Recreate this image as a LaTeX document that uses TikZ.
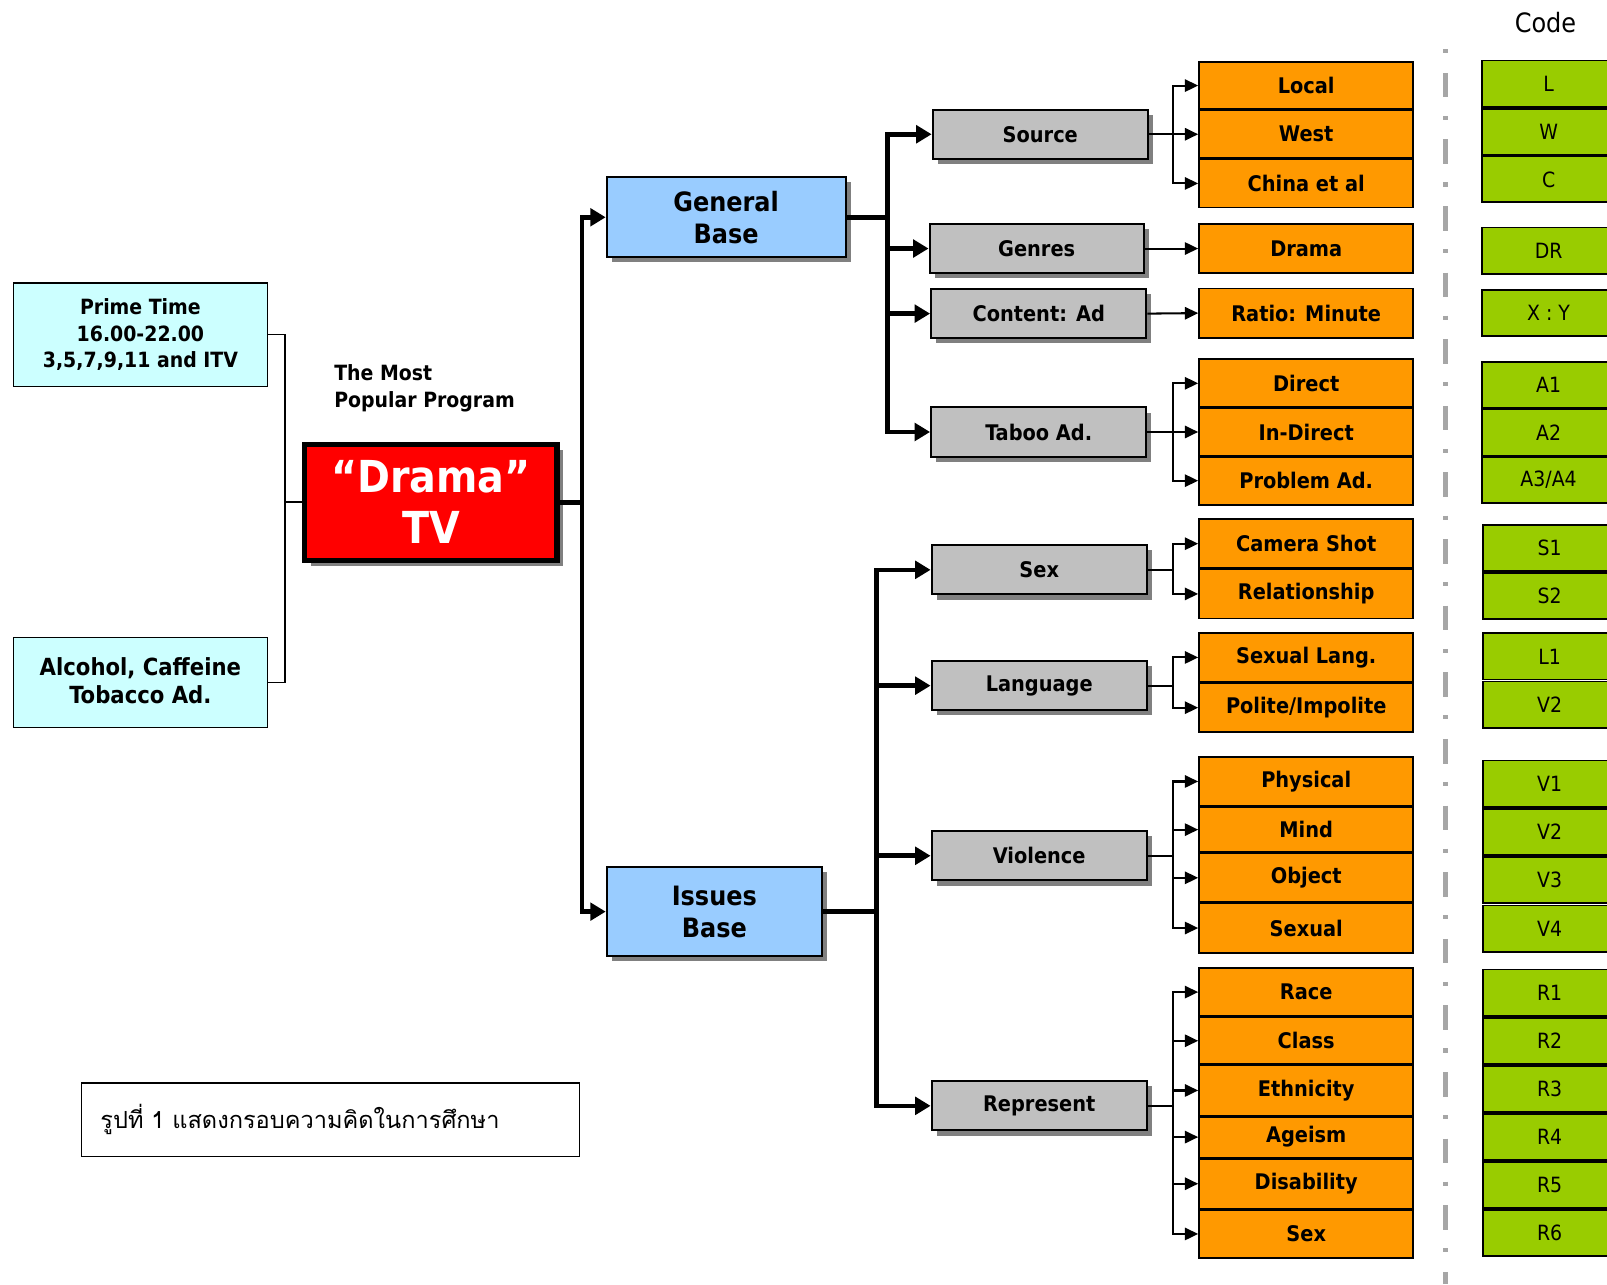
\documentclass[tikz,border=0pt]{standalone}
\usepackage{fontspec}
\setmainfont{DejaVu Sans Condensed}
\newfontfamily\thaifont[Script=Thai]{Loma}
\usetikzlibrary{shadows}
\usetikzlibrary{arrows.meta}
\definecolor{cyanbox}{HTML}{CCFFFF}
\definecolor{bluebox}{HTML}{99CCFF}
\definecolor{graybox}{HTML}{C0C0C0}
\definecolor{orangebox}{HTML}{FF9900}
\definecolor{greenbox}{HTML}{99CC00}
\definecolor{shadowgray}{HTML}{808080}
\definecolor{sepgray}{HTML}{A6A6A6}
\tikzset{
    mynodet/.style = {rectangle, line width=1.5pt, draw=black, align=center, inner sep=0pt, fill=cyanbox, minimum width=248pt, text=black},
    mynoder/.style = {rectangle, line width=5pt, draw=black, align=center, inner sep=0pt, fill=red, font=\bfseries\fontsize{43}{50}\selectfont, text=white, drop shadow={shadow xshift=6pt, shadow yshift=-6pt, fill=shadowgray, opacity=1}},
    mynodeb/.style = {rectangle, line width=2pt, draw=black, align=center, inner sep=0pt, fill=bluebox, font=\bfseries\fontsize{26}{31}\selectfont, text=black, drop shadow={shadow xshift=5pt, shadow yshift=-5pt, fill=shadowgray, opacity=1}},
    mynodeg/.style = {rectangle, line width=2pt, draw=black, align=center, inner sep=0pt, fill=graybox, minimum width=210pt, minimum height=48pt, font=\bfseries\fontsize{21}{25}\selectfont, text=black, drop shadow={shadow xshift=5pt, shadow yshift=-5pt, fill=shadowgray, opacity=1}},
    mynodeo/.style = {rectangle, line width=1.8pt, draw=black, align=center, inner sep=0pt, fill=orangebox, minimum width=209pt, font=\bfseries\fontsize{21}{25}\selectfont, text=black},
    mynodec/.style = {rectangle, line width=1.8pt, draw=black, align=center, inner sep=0pt, fill=greenbox, minimum width=130pt, minimum height=45pt, font=\fontsize{20.5}{24}\selectfont, text=black},
    edgel/.style = {-, line width=1.5pt, black},
    edgen/.style = {-{Triangle[length=13pt,width=12pt]}, line width=2pt, black},
    edget/.style = {-, line width=4.5pt, black},
    tipk/.style = {-{Triangle[length=15pt,width=17pt]}},
    sepline/.style = {line width=5pt, sepgray, dash pattern=on 4pt off 19pt on 24pt off 18pt}
}

\begin{document}
\begin{tikzpicture}[x=1pt,y=-1pt]
\path[use as bounding box] (0,0) rectangle (1568,1253);
\clip (0,0) rectangle (1568,1253);

% left side
\node[mynodet, minimum height=101pt, font=\bfseries\fontsize{20.5}{25.5}\selectfont] at (137,326.5) (prime) {Prime Time\\16.00-22.00\\3,5,7,9,11 and ITV};
\node[mynodet, minimum height=88pt, font=\bfseries\fontsize{23}{28}\selectfont] at (137,666) (alco) {\raisebox{4pt}{Alcohol, Caffeine}\\\raisebox{4pt}{Tobacco Ad.}};
\node[anchor=west, align=left, inner sep=0pt, font=\bfseries\fontsize{20.5}{26}\selectfont] at (326,379) (popular) {The Most\\Popular Program};
\node[mynoder, minimum width=246pt, minimum height=113pt] at (420.5,490) (drama) {\raisebox{-4pt}{“Drama”}\\\raisebox{-4pt}{TV}};

% bases
\node[mynodeb, minimum width=233pt, minimum height=78pt] at (708.5,212) (genbase) {General\\Base};
\node[mynodeb, minimum width=210pt, minimum height=87pt] at (697,889.5) (issbase) {Issues\\Base};

% general base topics
\node[mynodeg] at (1015,131) (source) {Source};
\node[mynodeg, minimum width=209pt] at (1011.5,242.5) (genres) {Genres};
\node[mynodeg] at (1013.5,306) (content) {Content: Ad};
\node[mynodeg] at (1013.5,421.5) (taboo) {Taboo Ad.};

% issues base topics
\node[mynodeg] at (1014,556) (sexg) {Sex};
\node[mynodeg] at (1014,669) (lang) {Language};
\node[mynodeg] at (1014,835) (viol) {Violence};
\node[mynodeg] at (1014,1079) (repr) {Represent};

% categories
\node[mynodeo, minimum height=46pt] at (1274.5,83.5) (local) {Local};
\node[mynodeo, minimum height=47pt] at (1274.5,131) (west) {West};
\node[mynodeo, minimum height=47pt] at (1274.5,179) (china) {China et al};
\node[mynodeo, minimum height=48pt] at (1274.5,242.5) (dramao) {Drama};
\node[mynodeo, minimum height=48pt] at (1274.5,305.5) (ratio) {Ratio: Minute};
\node[mynodeo, minimum height=47pt] at (1274.5,374) (direct) {Direct};
\node[mynodeo, minimum height=46pt] at (1274.5,421.5) (indirect) {In-Direct};
\node[mynodeo, minimum height=47pt] at (1274.5,469) (problem) {Problem Ad.};
\node[mynodeo, minimum height=48pt] at (1274.5,530.5) (camera) {Camera Shot};
\node[mynodeo, minimum height=48pt] at (1274.5,579.5) (relation) {Relationship};
\node[mynodeo, minimum height=48pt] at (1274.5,641.5) (sexlang) {Sexual Lang.};
\node[mynodeo, minimum height=48pt] at (1274.5,690.5) (polite) {Polite/Impolite};
\node[mynodeo, minimum height=48pt] at (1274.5,762.5) (physical) {Physical};
\node[mynodeo, minimum height=44pt] at (1274.5,809.5) (mind) {Mind};
\node[mynodeo, minimum height=48pt] at (1274.5,856.5) (object) {Object};
\node[mynodeo, minimum height=48pt] at (1274.5,905.5) (sexual) {Sexual};
\node[mynodeo, minimum height=47pt] at (1274.5,968) (race) {Race};
\node[mynodeo, minimum height=46pt] at (1274.5,1015.5) (class) {Class};
\node[mynodeo, minimum height=49pt] at (1274.5,1064) (ethnic) {Ethnicity};
\node[mynodeo, minimum height=40pt] at (1274.5,1109.5) (ageism) {Ageism};
\node[mynodeo, minimum height=49pt] at (1274.5,1155) (disab) {Disability};
\node[mynodeo, minimum height=47pt] at (1274.5,1204) (sexo) {Sex};

% codes
\node[font=\fontsize{26}{30}\selectfont] at (1508,22) (code) {Code};
\draw[sepline] (1410,48) -- (1410,1253);
\node[mynodec] at (1511,81.5) (cl) {L};
\node[mynodec] at (1511,128.5) (cw) {W};
\node[mynodec] at (1511,175) (cc) {C};
\node[mynodec] at (1511,244.5) (cdr) {DR};
\node[mynodec] at (1511,305.5) (cxy) {X : Y};
\node[mynodec] at (1511,375.5) (ca1) {A1};
\node[mynodec] at (1511,422) (ca2) {A2};
\node[mynodec] at (1511,468) (ca34) {A3/A4};
\node[mynodec] at (1512,535) (cs1) {S1};
\node[mynodec] at (1512,581.5) (cs2) {S2};
\node[mynodec] at (1512,640.5) (cl1) {L1};
\node[mynodec] at (1512,687.5) (clv2) {V2};
\node[mynodec] at (1512,764.5) (cv1) {V1};
\node[mynodec] at (1512,811.5) (cv2) {V2};
\node[mynodec] at (1512,858.5) (cv3) {V3};
\node[mynodec] at (1512,906) (cv4) {V4};
\node[mynodec] at (1512,968.5) (cr1) {R1};
\node[mynodec] at (1512,1015.5) (cr2) {R2};
\node[mynodec] at (1512,1062.5) (cr3) {R3};
\node[mynodec] at (1512,1109.5) (cr4) {R4};
\node[mynodec] at (1512,1156.5) (cr5) {R5};
\node[mynodec] at (1512,1203) (cr6) {R6};

% caption
\node[draw, line width=1.5pt, minimum width=486pt, minimum height=72pt, text width=449pt, inner xsep=18pt, align=left, font=\thaifont\fontsize{23}{28}\selectfont] at (322.5,1092.5) (caption) {รูปที่ 1 แสดงกรอบความคิดในการศึกษา};

% left connectors
\coordinate (busL) at (278,490);
\draw[edgel] (prime.east) -| (busL) |- (alco.east);
\draw[edgel] (busL) -- (drama.west);

% thick connectors
\coordinate (busA) at (568,490);
\coordinate (busG) at (866,212);
\coordinate (busI) at (855,889.5);
\draw[edget] (drama.east) -- (busA);
\draw[edget,tipk] (busA) |- (genbase.west);
\draw[edget,tipk] (busA) |- (issbase.west);
\draw[edget] (genbase.east) -- (busG);
\draw[edget,tipk] (busG) |- (source.west);
\draw[edget,tipk] (busG) |- (genres.west);
\draw[edget,tipk] (busG) |- (content.west);
\draw[edget,tipk] (busG) |- (taboo.west);
\draw[edget] (issbase.east) -- (busI);
\draw[edget,tipk] (busI) |- (sexg.west);
\draw[edget,tipk] (busI) |- (lang.west);
\draw[edget,tipk] (busI) |- (viol.west);
\draw[edget,tipk] (busI) |- (repr.west);

% thin connectors
\draw[edgen] (source.east) -| ([xshift=-25pt]local.west) -- (local.west);
\draw[edgen] (source.east) -- (west.west);
\draw[edgen] (source.east) -| ([xshift=-25pt]china.west) -- (china.west);
\draw[edgen] (genres.east) -- (dramao.west);
\draw[edgen] (content.east) -- (ratio.west);
\draw[edgen] (taboo.east) -| ([xshift=-25pt]direct.west) -- (direct.west);
\draw[edgen] (taboo.east) -- (indirect.west);
\draw[edgen] (taboo.east) -| ([xshift=-25pt]problem.west) -- (problem.west);
\draw[edgen] (sexg.east) -| ([xshift=-25pt]camera.west) -- (camera.west);
\draw[edgen] (sexg.east) -| ([xshift=-25pt]relation.west) -- (relation.west);
\draw[edgen] (lang.east) -| ([xshift=-25pt]sexlang.west) -- (sexlang.west);
\draw[edgen] (lang.east) -| ([xshift=-25pt]polite.west) -- (polite.west);
\draw[edgen] (viol.east) -| ([xshift=-25pt]physical.west) -- (physical.west);
\draw[edgen] (viol.east) -| ([xshift=-25pt]mind.west) -- (mind.west);
\draw[edgen] (viol.east) -| ([xshift=-25pt]object.west) -- (object.west);
\draw[edgen] (viol.east) -| ([xshift=-25pt]sexual.west) -- (sexual.west);
\draw[edgen] (repr.east) -| ([xshift=-25pt]race.west) -- (race.west);
\draw[edgen] (repr.east) -| ([xshift=-25pt]class.west) -- (class.west);
\draw[edgen] (repr.east) -| ([xshift=-25pt]ethnic.west) -- (ethnic.west);
\draw[edgen] (repr.east) -| ([xshift=-25pt]ageism.west) -- (ageism.west);
\draw[edgen] (repr.east) -| ([xshift=-25pt]disab.west) -- (disab.west);
\draw[edgen] (repr.east) -| ([xshift=-25pt]sexo.west) -- (sexo.west);

\end{tikzpicture}
\end{document}
